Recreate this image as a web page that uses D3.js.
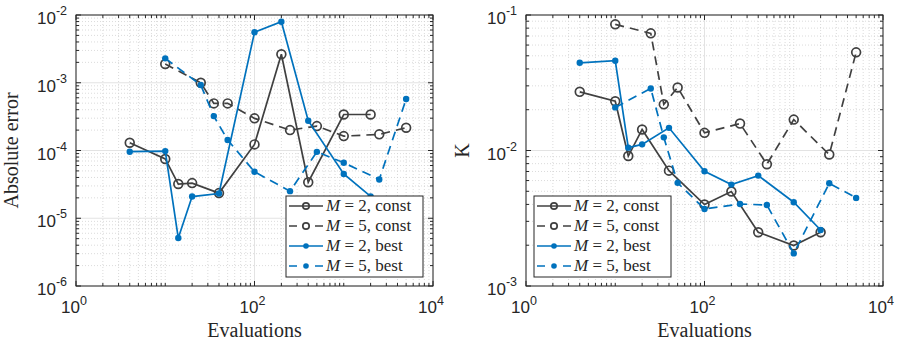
<!DOCTYPE html>
<html>
<head>
<meta charset="utf-8">
<script src="https://cdn.jsdelivr.net/npm/d3@7"></script>
<style>
  body { margin: 0; background: #fff; }
  svg { display: block; }
</style>
</head>
<body>
<svg id="chart" width="901" height="344"></svg>
<script>
// evaluation counts
const evalsM2 = [4, 10, 14, 20, 40, 100, 200, 400, 1000, 2000];
const evalsM5 = [10, 25, 35, 50, 100, 250, 500, 1000, 2500, 5000];

// absolute error
const errM2Const = [1.30e-4, 7.5e-5, 3.2e-5, 3.3e-5, 2.35e-5, 1.23e-4, 2.63e-3, 3.4e-5, 3.4e-4, 3.4e-4];
const errM5Const = [1.89e-3, 1.0e-3, 4.96e-4, 4.96e-4, 2.98e-4, 2.0e-4, 2.29e-4, 1.63e-4, 1.73e-4, 2.17e-4];
const errM2Best  = [9.6e-5, 9.8e-5, 5.1e-6, 2.09e-5, 2.32e-5, 5.55e-3, 7.97e-3, 2.75e-4, 4.5e-5, 2.1e-5];
const errM5Best  = [2.29e-3, 9.25e-4, 3.22e-4, 1.43e-4, 4.85e-5, 2.51e-5, 9.55e-5, 6.6e-5, 3.74e-5, 5.75e-4];

// K
const kM2Const = [2.71e-2, 2.31e-2, 9.1e-3, 1.43e-2, 7.1e-3, 3.99e-3, 4.98e-3, 2.49e-3, 1.99e-3, 2.49e-3];
const kM5Const = [8.53e-2, 7.32e-2, 2.19e-2, 2.92e-2, 1.35e-2, 1.58e-2, 7.92e-3, 1.69e-2, 9.34e-3, 5.30e-2];
const kM2Best  = [4.44e-2, 4.6e-2, 1.05e-2, 1.11e-2, 1.47e-2, 7.03e-3, 5.6e-3, 6.53e-3, 4.15e-3, 2.59e-3];
const kM5Best  = [2.08e-2, 2.87e-2, 1.25e-2, 5.77e-3, 3.7e-3, 4.03e-3, 3.96e-3, 1.74e-3, 5.73e-3, 4.47e-3];

// tick labels (exponents of 10)
const xTickExp = [0, 2, 4];
const errTickExp = [-6, -5, -4, -3, -2];
const kTickExp = [-3, -2, -1];

const legendLabels = [["2", "const"], ["5", "const"], ["2", "best"], ["5", "best"]];

const dark = "#404040";
const blue = "#0072BD";
const tickFont = "'Liberation Sans', Arial, sans-serif";
const serif = "'Liberation Serif', 'Times New Roman', serif";
const lw = 1.7;

const svg = d3.select("#chart");

function drawPanel(opts) {
  const { left, right, top, bottom, yDomain, yTickExp, ylabel, ylabelX, series, legendX } = opts;

  const x = d3.scaleLog().domain([1, 1e4]).range([left, right]);
  const y = d3.scaleLog().domain(yDomain).range([bottom, top]);
  const g = svg.append("g");

  const xMajor = xTickExp.map(e => 10 ** e);
  const yMajor = yTickExp.map(e => 10 ** e);
  const xMinor = [];
  for (let e = 0; e < 4; e++) for (let k = 1; k < 10; k++) {
    const v = k * 10 ** e;
    if (!xMajor.includes(v)) xMinor.push(v);
  }
  const yMinor = [];
  const e0 = yTickExp[0], e1 = yTickExp[yTickExp.length - 1];
  for (let e = e0; e < e1; e++) for (let k = 2; k < 10; k++) yMinor.push(k * 10 ** e);

  // minor grid (dotted)
  g.append("g").selectAll("line").data(xMinor).join("line")
    .attr("x1", d => x(d)).attr("x2", d => x(d)).attr("y1", top).attr("y2", bottom)
    .attr("stroke", "#d2d2d2").attr("stroke-width", 0.8).attr("stroke-dasharray", "1,2");
  g.append("g").selectAll("line").data(yMinor).join("line")
    .attr("y1", d => y(d)).attr("y2", d => y(d)).attr("x1", left).attr("x2", right)
    .attr("stroke", "#d2d2d2").attr("stroke-width", 0.8).attr("stroke-dasharray", "1,2");
  // major grid
  g.append("g").selectAll("line").data(xMajor).join("line")
    .attr("x1", d => x(d)).attr("x2", d => x(d)).attr("y1", top).attr("y2", bottom)
    .attr("stroke", "#e3e3e3").attr("stroke-width", 1);
  g.append("g").selectAll("line").data(yMajor).join("line")
    .attr("y1", d => y(d)).attr("y2", d => y(d)).attr("x1", left).attr("x2", right)
    .attr("stroke", "#e3e3e3").attr("stroke-width", 1);

  // ticks on all four sides, pointing inward
  const tk = g.append("g").attr("stroke", "#262626").attr("stroke-width", 1);
  xMajor.concat(xMinor).forEach(d => {
    const len = xMajor.includes(d) ? 5 : 3;
    tk.append("line").attr("x1", x(d)).attr("x2", x(d)).attr("y1", bottom).attr("y2", bottom - len);
    tk.append("line").attr("x1", x(d)).attr("x2", x(d)).attr("y1", top).attr("y2", top + len);
  });
  yMajor.concat(yMinor).forEach(d => {
    const len = yMajor.includes(d) ? 5 : 3;
    tk.append("line").attr("y1", y(d)).attr("y2", y(d)).attr("x1", left).attr("x2", left + len);
    tk.append("line").attr("y1", y(d)).attr("y2", y(d)).attr("x1", right).attr("x2", right - len);
  });

  // series
  const line = d3.line().x(d => x(d[0])).y(d => y(d[1]));
  series.forEach(s => {
    const pts = s.xs.map((v, i) => [v, s.ys[i]]);
    g.append("path").datum(pts)
      .attr("d", line).attr("fill", "none")
      .attr("stroke", s.color).attr("stroke-width", lw)
      .attr("stroke-dasharray", s.dashed ? "9,6" : null);
    g.append("g").selectAll("circle").data(pts).join("circle")
      .attr("cx", d => x(d[0])).attr("cy", d => y(d[1]))
      .attr("r", s.open ? 4.4 : 3.2)
      .attr("fill", s.open ? "none" : s.color)
      .attr("stroke", s.color).attr("stroke-width", s.open ? lw : 0);
  });

  // frame
  g.append("rect").attr("x", left).attr("y", top)
    .attr("width", right - left).attr("height", bottom - top)
    .attr("fill", "none").attr("stroke", "#262626").attr("stroke-width", 1);

  // tick labels
  xTickExp.forEach(e => {
    const t = g.append("text").attr("x", x(10 ** e) - 2).attr("y", bottom + 27)
      .attr("text-anchor", "middle").attr("font-family", tickFont).attr("fill", "#262626");
    t.append("tspan").attr("font-size", 17).text("10");
    t.append("tspan").attr("font-size", 12.5).attr("dy", -8).text(e);
  });
  yTickExp.forEach(e => {
    const t = g.append("text").attr("x", left - 9).attr("y", y(10 ** e) + 9)
      .attr("text-anchor", "end").attr("font-family", tickFont).attr("fill", "#262626");
    t.append("tspan").attr("font-size", 17).text("10");
    t.append("tspan").attr("font-size", 12.5).attr("dy", -9).text(e);
  });

  // axis labels
  g.append("text").attr("x", (left + right) / 2).attr("y", 337)
    .attr("text-anchor", "middle").attr("font-family", serif).attr("font-size", 20)
    .attr("fill", "#262626").text("Evaluations");
  g.append("text").attr("transform", `translate(${ylabelX},${(top + bottom) / 2}) rotate(-90)`)
    .attr("text-anchor", "middle").attr("font-family", serif).attr("font-size", 20)
    .attr("fill", "#262626").text(ylabel);

  // legend
  const lg = g.append("g").attr("transform", `translate(${legendX},196)`);
  lg.append("rect").attr("width", 137).attr("height", 81)
    .attr("fill", "#fff").attr("stroke", "#262626").attr("stroke-width", 1);
  series.forEach((s, i) => {
    const yy = 10 + i * 20;
    lg.append("line").attr("x1", 3).attr("x2", 37).attr("y1", yy).attr("y2", yy)
      .attr("stroke", s.color).attr("stroke-width", lw)
      .attr("stroke-dasharray", s.dashed ? "8,18" : null);
    lg.append("circle").attr("cx", 20).attr("cy", yy).attr("r", s.open ? 3.2 : 2.8)
      .attr("fill", s.open ? "none" : s.color).attr("stroke", s.color)
      .attr("stroke-width", s.open ? lw : 0);
    const t = lg.append("text").attr("x", 40).attr("y", yy + 5)
      .attr("font-family", serif).attr("font-size", 17).attr("fill", "#262626");
    t.append("tspan").attr("font-style", "italic").text("M");
    t.append("tspan").text(` = ${legendLabels[i][0]}, ${legendLabels[i][1]}`);
  });
}

drawPanel({
  left: 76, right: 433, top: 15, bottom: 286,
  yDomain: [1e-6, 1e-2], yTickExp: errTickExp, ylabel: "Absolute error", ylabelX: 18, legendX: 286,
  series: [
    { xs: evalsM2, ys: errM2Const, color: dark, dashed: false, open: true },
    { xs: evalsM5, ys: errM5Const, color: dark, dashed: true, open: true },
    { xs: evalsM2, ys: errM2Best, color: blue, dashed: false, open: false },
    { xs: evalsM5, ys: errM5Best, color: blue, dashed: true, open: false }
  ]
});

drawPanel({
  left: 526, right: 883, top: 15, bottom: 286,
  yDomain: [1e-3, 1e-1], yTickExp: kTickExp, ylabel: "K", ylabelX: 469, legendX: 534,
  series: [
    { xs: evalsM2, ys: kM2Const, color: dark, dashed: false, open: true },
    { xs: evalsM5, ys: kM5Const, color: dark, dashed: true, open: true },
    { xs: evalsM2, ys: kM2Best, color: blue, dashed: false, open: false },
    { xs: evalsM5, ys: kM5Best, color: blue, dashed: true, open: false }
  ]
});
</script>
</body>
</html>
